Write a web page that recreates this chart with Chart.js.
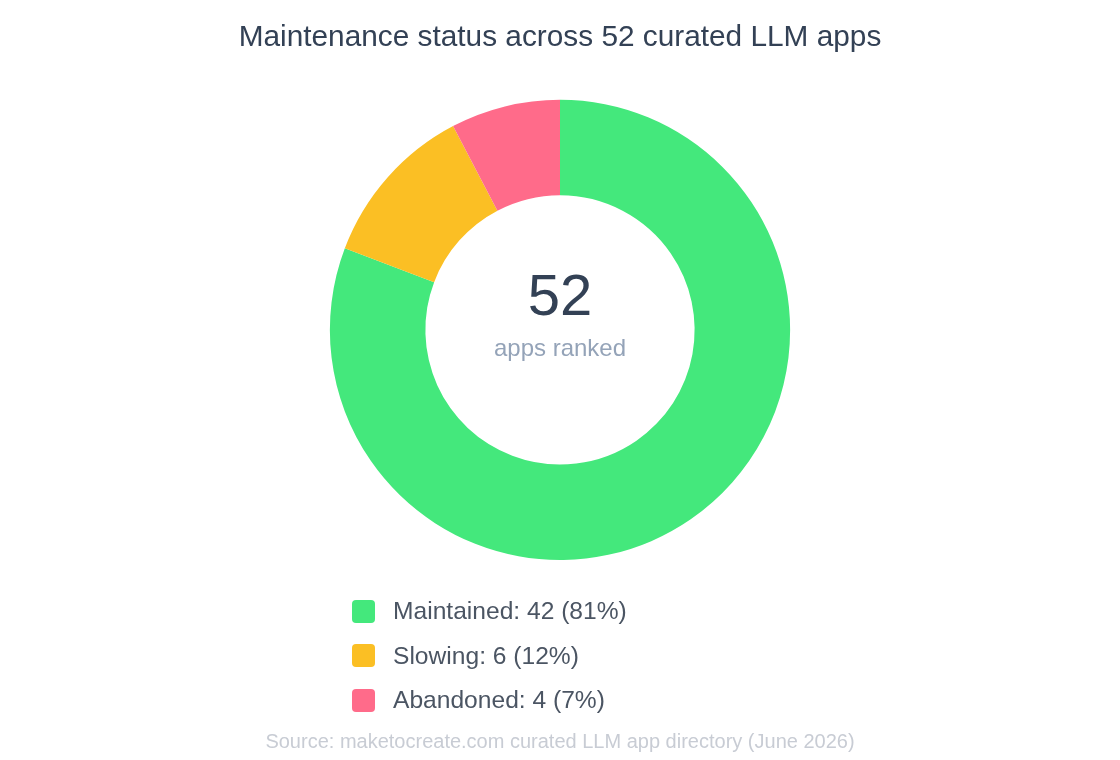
<!DOCTYPE html>
<html>
<head>
<meta charset="utf-8">
<script src="https://cdn.jsdelivr.net/npm/chart.js@4.4.1/dist/chart.umd.min.js"></script>
<style>
  html, body { margin: 0; padding: 0; background: #ffffff; }
  #wrap { position: relative; width: 1120px; height: 760px; font-family: "Liberation Sans", Arial, sans-serif; }
  #legend { position: absolute; left: 352px; top: 589px; margin: 0; padding: 0; list-style: none; }
  #legend li { display: flex; align-items: center; height: 44.5px; font-size: 24.6px; color: #4b5563; }
  #legend span.box { width: 23px; height: 23px; border-radius: 4px; margin-right: 18px; display: inline-block; }
</style>
</head>
<body>
<div id="wrap">
  <canvas id="statusChart" width="1120" height="760"></canvas>
  <ul id="legend"></ul>
</div>
<script>
var statusLabels = ['Maintained', 'Slowing', 'Abandoned'];
var statusCounts = [42, 6, 4];
var statusShares = ['81%', '12%', '7%'];
var statusColors = ['#44e87c', '#fbbf24', '#ff6b8a'];
var totalApps = 52;

// texte au centre du donut
var centerText = {
    id: 'centerText',
    afterDraw: function (chart) {
        var meta = chart.getDatasetMeta(0).data[0];
        if (!meta) return;
        var ctx = chart.ctx;
        ctx.save();
        ctx.textAlign = 'center';
        ctx.textBaseline = 'middle';
        ctx.fillStyle = '#334155';
        ctx.font = '58px "Liberation Sans", Arial, sans-serif';
        ctx.fillText(String(totalApps), meta.x, meta.y - 31);
        ctx.fillStyle = '#94a3b8';
        ctx.font = '24px "Liberation Sans", Arial, sans-serif';
        ctx.fillText('apps ranked', meta.x, meta.y + 19);
        ctx.restore();
    }
};

var ctxDonut = document.getElementById('statusChart').getContext('2d');
var statusChart = new Chart(ctxDonut, {
    type: 'doughnut',
    data: {
        labels: statusLabels,
        datasets: [{
            data: statusCounts,
            backgroundColor: statusColors,
            borderWidth: 0,
            hoverOffset: 0
        }]
    },
    options: {
        responsive: false,
        animation: false,
        cutout: '58.5%',
        plugins: {
            legend: { display: false },
            tooltip: { enabled: false },
            title: {
                display: true,
                text: 'Maintenance status across 52 curated LLM apps',
                color: '#334155',
                font: { family: '"Liberation Sans", Arial, sans-serif', size: 29.8, weight: 'normal' },
                padding: { top: 20, bottom: 44 }
            },
            subtitle: {
                display: true,
                position: 'bottom',
                text: 'Source: maketocreate.com curated LLM app directory (June 2026)',
                color: '#c8ccd4',
                font: { family: '"Liberation Sans", Arial, sans-serif', size: 20 },
                padding: { top: 170, bottom: 6 }
            }
        }
    },
    plugins: [centerText]
});

// légende html, une ligne par statut
var legendList = document.getElementById('legend');
statusLabels.forEach(function (label, i) {
    var li = document.createElement('li');
    li.innerHTML = '<span class="box" style="background:' + statusColors[i] + '"></span>' +
        label + ': ' + statusCounts[i] + ' (' + statusShares[i] + ')';
    legendList.appendChild(li);
});
</script>
</body>
</html>
